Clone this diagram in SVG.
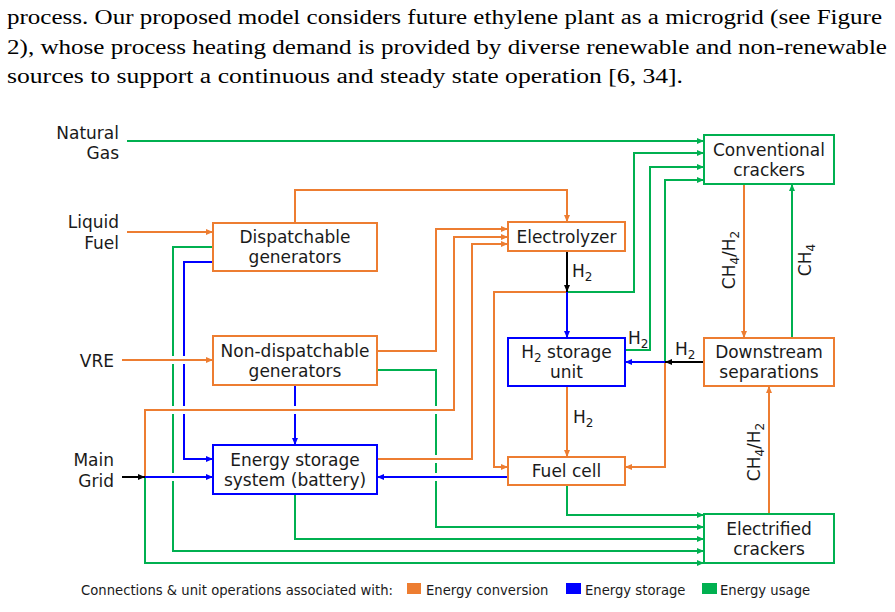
<svg xmlns="http://www.w3.org/2000/svg" width="895" height="612" viewBox="0 0 895 612">
<style>
#connectors path{fill:none;stroke-width:2}
.o{stroke:#ED7D31}.b{stroke:#0000FF}.g{stroke:#00B050}.k{stroke:#000}
.box{fill:#fff;stroke-width:2}
.t{font-family:"DejaVu Sans",Verdana,sans-serif;font-size:17px;fill:#1a1a1a;text-anchor:middle}
.l{font-family:"DejaVu Sans",Verdana,sans-serif;font-size:17px;fill:#1a1a1a}
.r{font-family:"DejaVu Sans",Verdana,sans-serif;font-size:17px;fill:#1a1a1a;text-anchor:end}
.lg{font-family:"DejaVu Sans",Verdana,sans-serif;font-size:13.2px;fill:#1a1a1a}
.p{font-family:"Liberation Serif","Times New Roman",serif;font-size:20px;fill:#000}
.s{font-size:12px}
</style>
<defs>
<marker id="ao" markerUnits="userSpaceOnUse" markerWidth="7" markerHeight="8" viewBox="0 0 7 8" refX="7" refY="4" orient="auto"><path d="M0,1 L7,4 L0,7 Z" fill="#ED7D31"/></marker>
<marker id="ab" markerUnits="userSpaceOnUse" markerWidth="7" markerHeight="8" viewBox="0 0 7 8" refX="7" refY="4" orient="auto"><path d="M0,1 L7,4 L0,7 Z" fill="#0000FF"/></marker>
<marker id="ag" markerUnits="userSpaceOnUse" markerWidth="7" markerHeight="8" viewBox="0 0 7 8" refX="7" refY="4" orient="auto"><path d="M0,1 L7,4 L0,7 Z" fill="#00B050"/></marker>
<marker id="ak" markerUnits="userSpaceOnUse" markerWidth="7" markerHeight="8" viewBox="0 0 7 8" refX="7" refY="4" orient="auto"><path d="M0,1 L7,4 L0,7 Z" fill="#000"/></marker>
</defs>
<rect width="895" height="612" fill="#fff"/>

<g id="paragraph">
<text class="p" x="7" y="24" textLength="875" lengthAdjust="spacingAndGlyphs">process. Our proposed model considers future ethylene plant as a microgrid (see Figure</text>
<text class="p" x="7" y="53.5" textLength="880" lengthAdjust="spacingAndGlyphs">2), whose process heating demand is provided by diverse renewable and non-renewable</text>
<text class="p" x="7" y="83" textLength="676" lengthAdjust="spacingAndGlyphs">sources to support a continuous and steady state operation [6, 34].</text>
</g>

<g id="inputs">
<text class="r" x="119" y="139">Natural</text>
<text class="r" x="119" y="159">Gas</text>
<text class="r" x="119" y="228">Liquid</text>
<text class="r" x="119" y="249">Fuel</text>
<text class="r" x="114" y="367">VRE</text>
<text class="r" x="114" y="466">Main</text>
<text class="r" x="114" y="487">Grid</text>
</g>

<g id="connectors">
<!-- green usage -->
<path class="g" d="M127,141 H704" marker-end="url(#ag)"/>
<path class="g" d="M567,292 H634 V153 H704" marker-end="url(#ag)"/>
<path class="g" d="M625,350 H650 V167 H704" marker-end="url(#ag)"/>
<path class="g" d="M665,362 V180 H704" marker-end="url(#ag)"/>
<path class="g" d="M792,338 V184" marker-end="url(#ag)"/>
<path class="g" d="M567,485 V515 H704" marker-end="url(#ag)"/>
<path class="g" d="M377,370 H436 V406 M436,414 V455 M436,463 V473 M436,481 V527 H704" marker-end="url(#ag)"/>
<path class="g" d="M295,494 V539 H704" marker-end="url(#ag)"/>
<path class="g" d="M213,247 H173 V356 M173,364 V406 M173,414 V473 M173,481 V551 H704" marker-end="url(#ag)"/>
<path class="g" d="M145,477 V563 H704" marker-end="url(#ag)"/>
<!-- orange conversion -->
<path class="o" d="M127,232 H213" marker-end="url(#ao)"/>
<path class="o" d="M122,360 H213" marker-end="url(#ao)"/>
<path class="o" d="M295,223 V190 H567 V222" marker-end="url(#ao)"/>
<path class="o" d="M377,351 H436 V229 H508" marker-end="url(#ao)"/>
<path class="o" d="M145,477 V410 H454 V237 H508" marker-end="url(#ao)"/>
<path class="o" d="M377,459 H472 V244 H508" marker-end="url(#ao)"/>
<path class="o" d="M567,292 H494 V467 H508" marker-end="url(#ao)"/>
<path class="o" d="M567,386 V457" marker-end="url(#ao)"/>
<path class="o" d="M665,362 V467 H625" marker-end="url(#ao)"/>
<path class="o" d="M744,184 V338" marker-end="url(#ao)"/>
<path class="o" d="M769,514 V386" marker-end="url(#ao)"/>
<!-- blue storage -->
<path class="b" d="M213,262 H184 V356 M184,364 V406 M184,414 V459 H213" marker-end="url(#ab)"/>
<path class="b" d="M295,385 V406 M295,414 V445" marker-end="url(#ab)"/>
<path class="b" d="M145,477 H213" marker-end="url(#ab)"/>
<path class="b" d="M508,477 H377" marker-end="url(#ab)"/>
<path class="b" d="M567,292 V338" marker-end="url(#ab)"/>
<path class="b" d="M665,362 H625" marker-end="url(#ab)"/>
<!-- black -->
<path class="k" d="M122,477 H145" marker-end="url(#ak)"/>
<path class="k" d="M567,251 V292" marker-end="url(#ak)"/>
<path class="k" d="M704,362 H665" marker-end="url(#ak)"/>
</g>

<g id="labels">
<text class="l" x="572" y="277">H<tspan class="s" dy="4">2</tspan></text>
<text class="l" x="628" y="344">H<tspan class="s" dy="4">2</tspan></text>
<text class="l" x="675" y="355">H<tspan class="s" dy="4">2</tspan></text>
<text class="l" x="573" y="423">H<tspan class="s" dy="4">2</tspan></text>
<text class="t" transform="translate(735,260) rotate(-90)">CH<tspan class="s" dy="4">4</tspan><tspan dy="-4">/H</tspan><tspan class="s" dy="4">2</tspan></text>
<text class="t" transform="translate(811,260) rotate(-90)">CH<tspan class="s" dy="4">4</tspan></text>
<text class="t" transform="translate(760,452) rotate(-90)">CH<tspan class="s" dy="4">4</tspan><tspan dy="-4">/H</tspan><tspan class="s" dy="4">2</tspan></text>
</g>

<g id="dispatchable">
<rect class="box o" x="213" y="223" width="164" height="48"/>
<text class="t" x="295" y="243">Dispatchable</text>
<text class="t" x="295" y="263">generators</text>
</g>
<g id="nondispatchable">
<rect class="box o" x="213" y="336" width="164" height="49"/>
<text class="t" x="295" y="357">Non-dispatchable</text>
<text class="t" x="295" y="377">generators</text>
</g>
<g id="battery">
<rect class="box b" x="213" y="445" width="164" height="49"/>
<text class="t" x="295" y="466">Energy storage</text>
<text class="t" x="295" y="486">system (battery)</text>
</g>
<g id="electrolyzer">
<rect class="box o" x="508" y="222" width="117" height="29"/>
<text class="t" x="566.5" y="243">Electrolyzer</text>
</g>
<g id="h2storage">
<rect class="box b" x="508" y="338" width="117" height="48"/>
<text class="t" x="566.5" y="358">H<tspan class="s" dy="4">2</tspan><tspan dy="-4"> storage</tspan></text>
<text class="t" x="566.5" y="378">unit</text>
</g>
<g id="fuelcell">
<rect class="box o" x="508" y="457" width="117" height="28"/>
<text class="t" x="566.5" y="477">Fuel cell</text>
</g>
<g id="conventional">
<rect class="box g" x="704" y="135" width="130" height="49"/>
<text class="t" x="769" y="156">Conventional</text>
<text class="t" x="769" y="176">crackers</text>
</g>
<g id="downstream">
<rect class="box o" x="704" y="338" width="130" height="48"/>
<text class="t" x="769" y="358">Downstream</text>
<text class="t" x="769" y="378">separations</text>
</g>
<g id="electrified">
<rect class="box g" x="704" y="514" width="130" height="49"/>
<text class="t" x="769" y="535">Electrified</text>
<text class="t" x="769" y="555">crackers</text>
</g>

<g id="legend">
<text class="lg" x="81" y="595" textLength="312">Connections &amp; unit operations associated with:</text>
<rect x="407" y="583" width="14" height="11" fill="#ED7D31"/>
<text class="lg" x="426" y="595">Energy conversion</text>
<rect x="566" y="583" width="15" height="11" fill="#0000FF"/>
<text class="lg" x="585" y="595">Energy storage</text>
<rect x="702" y="583" width="15" height="11" fill="#00B050"/>
<text class="lg" x="720" y="595">Energy usage</text>
</g>
</svg>
